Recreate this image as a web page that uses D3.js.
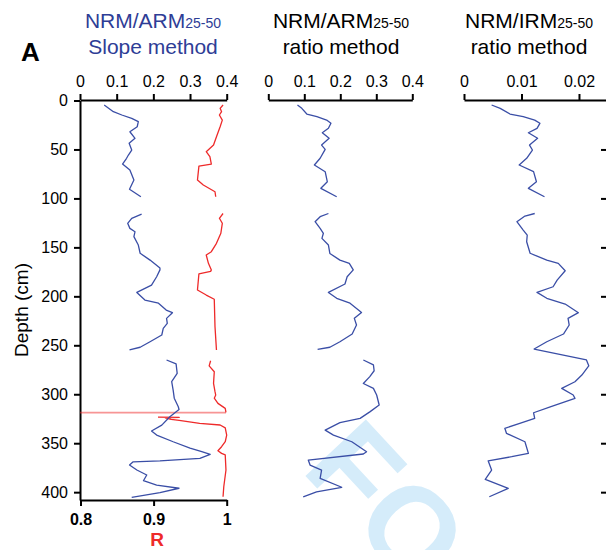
<!DOCTYPE html>
<html>
<head>
<meta charset="utf-8">
<script src="https://cdn.jsdelivr.net/npm/d3@7"></script>
<style>
    body { margin: 0; background: #fff; }
    svg { display: block; font-family: "Liberation Sans", Arial, sans-serif; }
    .axis path, .axis line { stroke: #000; stroke-width: 2; }
    .axis text { font-size: 16px; fill: #000; }
    .bold text { font-weight: bold; }
</style>
</head>
<body>
<div id="wrapper"></div>
<script>

// Daten: [Tiefe (cm), Wert]
const depthTicks = [0, 50, 100, 150, 200, 250, 300, 350, 400];
const armTicks = [0, 0.1, 0.2, 0.3, 0.4];
const irmTicks = [0, 0.01, 0.02];
const rTicks = [0.8, 0.9, 1];

// NRM/ARM Slope method (blau)
const slopeSeg1 = [[4.6,0.066],[11.4,0.091],[14.8,0.114],[18.2,0.141],[21.6,0.159],[26.8,0.156],[31.9,0.136],[38.6,0.150],[43.7,0.134],[50.6,0.141],[55.7,0.132],[59,0.127],[64.9,0.116],[71,0.136],[81.2,0.147],[90.7,0.135],[98.3,0.166]];
const slopeSeg2 = [[116,0.168],[120.3,0.141],[125.4,0.130],[130.6,0.136],[134,0.150],[139,0.147],[147.6,0.159],[156,0.164],[163,0.191],[171,0.218],[173,0.218],[180,0.209],[188.5,0.195],[196,0.155],[203.8,0.177],[207,0.214],[214,0.235],[216.7,0.252],[222.5,0.236],[227.6,0.238],[232.7,0.227],[239.5,0.223],[246.4,0.191],[252,0.164],[254.8,0.135]];
const slopeSeg3 = [[265,0.236],[269,0.262],[278.7,0.265],[287,0.250],[295.7,0.254],[304,0.257],[312.8,0.268],[315.6,0.270],[323,0.245],[331.5,0.223],[337.5,0.195],[341.7,0.209],[348.5,0.254],[355,0.300],[358.7,0.332],[361.4,0.355],[365.5,0.327],[368,0.218],[369,0.145],[372.3,0.135],[377.4,0.155],[382.5,0.182],[388.3,0.173],[392.7,0.209],[396,0.270],[400.5,0.218],[405.3,0.141]];

// R (rot)
const rSeg1 = [[4.6,0.995],[8,0.991],[11.4,0.993],[14.8,0.990],[20,0.994],[26.8,0.991],[37,0.986],[45.5,0.982],[52.3,0.972],[57.4,0.977],[64.9,0.979],[67,0.962],[81.2,0.960],[86.3,0.968],[93.2,0.984],[98.3,0.985]];
const rSeg2 = [[115.4,0.995],[120.3,0.990],[125.4,0.994],[135.6,0.992],[145.9,0.986],[154.4,0.979],[157.8,0.972],[166.3,0.975],[173,0.979],[174.5,0.978],[177,0.962],[193.5,0.960],[198.7,0.972],[203,0.983],[231,0.984],[254.8,0.986]];
const rSeg3 = [[265.8,0.978],[271,0.976],[277,0.983],[288.9,0.982],[297.4,0.984],[300.8,0.985],[304,0.983],[309.3,0.988],[314.4,0.998],[318.5,0.999]];
const rSeg4 = [[323.4,0.906],[323.7,0.935],[324,0.916],[325.6,0.924],[326.6,0.935],[329.7,0.963],[331.4,0.991],[334.4,0.998],[341.7,1.0],[348.5,0.998],[353.6,0.993],[357.7,0.988],[360.4,0.993],[362,0.998],[377.4,0.999],[394.5,0.996],[404.7,0.995]];
const rDotted = [[318.8,0.8],[318.8,0.999]];

// NRM/ARM ratio method
const ratioSeg1 = [[4.6,0.081],[8,0.093],[13.8,0.107],[16.5,0.135],[20,0.162],[23.3,0.174],[28.4,0.167],[32.9,0.150],[38.6,0.169],[45.5,0.148],[49.9,0.158],[59,0.144],[65.9,0.128],[72.7,0.158],[83,0.164],[89.7,0.146],[98.3,0.190]];
const ratioSeg2 = [[115.4,0.167],[118.7,0.144],[123.8,0.130],[130.6,0.144],[135.6,0.153],[140.8,0.149],[147.6,0.167],[156.2,0.171],[163,0.199],[166.3,0.225],[173,0.236],[180,0.219],[187.4,0.213],[196,0.167],[202,0.190],[207,0.227],[216.4,0.259],[222.5,0.239],[229.3,0.245],[238.5,0.233],[246.4,0.199],[252,0.171],[254.2,0.137]];
const ratioSeg3 = [[265,0.264],[270,0.292],[276,0.294],[282,0.282],[289,0.264],[294,0.292],[300.8,0.301],[311,0.308],[318,0.282],[324.6,0.255],[329,0.199],[336.6,0.158],[341.7,0.181],[348.5,0.232],[358.7,0.273],[361,0.264],[367.2,0.111],[372.3,0.116],[377.4,0.148],[386,0.144],[395,0.204],[399.6,0.134],[404.7,0.097]];

// NRM/IRM ratio method
const irmSeg1 = [[4.6,0.0048],[8,0.0063],[13.8,0.0080],[16.5,0.0103],[20,0.0123],[23.3,0.0132],[28.4,0.0127],[32.9,0.0112],[38.6,0.0128],[45.5,0.0114],[50.6,0.0119],[59,0.0109],[65.9,0.0096],[72.7,0.0121],[83,0.0126],[89.7,0.0112],[98.3,0.0140]];
const irmSeg2 = [[115.4,0.0123],[118,0.0106],[123.8,0.0092],[132.3,0.0103],[137.4,0.0110],[144.2,0.0109],[156,0.0115],[163,0.0144],[166.3,0.0164],[173.9,0.0176],[183.4,0.0162],[190.2,0.0155],[196,0.0127],[202,0.0144],[207.9,0.0176],[216.7,0.0199],[222.5,0.0181],[229.3,0.0183],[238.5,0.0173],[246.4,0.0144],[253.8,0.0122],[265,0.0213],[271,0.0217],[280.4,0.0205],[287.2,0.0193],[294,0.0170],[300.8,0.0190],[304.2,0.0193],[312.8,0.0150],[318.9,0.0121],[324.6,0.0123],[329.7,0.0097],[334.8,0.0071],[340,0.0074],[348.5,0.0106],[360.4,0.0112],[363.8,0.0083],[368,0.0042],[377.4,0.0048],[386.9,0.0037],[396.1,0.0077],[404.7,0.0044]];


function drawChart() {

    const blue = '#3a4ea6';
    const red = '#ee2a2a';

    let dimensions = {
        width: 606,
        height: 550,
        axisTop: 100,
        axisBottom: 500
    };

    const wrapper = d3.select('#wrapper')
        .append('svg')
        .attr('width', dimensions.width)
        .attr('height', dimensions.height);

    /// SKALEN //////////////////////////////////////////
    const yScale = d3.scaleLinear().domain([0, 408]).range([100.5, 500]);
    const slopeX = d3.scaleLinear().domain([0, 0.4]).range([80, 226.7]);
    const rX = d3.scaleLinear().domain([0.8, 1]).range([80.5, 226.7]);
    const ratioX = d3.scaleLinear().domain([0, 0.4]).range([268.3, 412.3]);
    const irmX = d3.scaleLinear().domain([0, 0.0247]).range([464, 606]);

    /// WASSERZEICHEN (liegt hinten) ////////////////////
    wrapper.append('text')
        .attr('transform', 'translate(300,470) rotate(47)')
        .attr('font-size', 120)
        .attr('font-weight', 'bold')
        .attr('fill', '#d5ecfa')
        .text('FO');

    /// ACHSEN //////////////////////////////////////////
    wrapper.append('g')
        .attr('class', 'axis')
        .attr('transform', `translate(0, ${dimensions.axisTop})`)
        .call(d3.axisTop(slopeX).tickValues(armTicks).tickSize(6).tickSizeOuter(0).tickPadding(7).tickFormat(d3.format('')));

    wrapper.append('g')
        .attr('class', 'axis')
        .attr('transform', `translate(0, ${dimensions.axisTop})`)
        .call(d3.axisTop(ratioX).tickValues(armTicks).tickSize(6).tickSizeOuter(0).tickPadding(7).tickFormat(d3.format('')));

    wrapper.append('g')
        .attr('class', 'axis')
        .attr('transform', `translate(0, ${dimensions.axisTop})`)
        .call(d3.axisTop(irmX).tickValues(irmTicks).tickSize(6).tickSizeOuter(0).tickPadding(7).tickFormat(d3.format('')));

    wrapper.append('g')
        .attr('class', 'axis')
        .attr('transform', 'translate(80, 0)')
        .call(d3.axisLeft(yScale).tickValues(depthTicks).tickSize(6).tickSizeOuter(0).tickPadding(6));

    wrapper.append('g')
        .attr('class', 'axis bold')
        .attr('transform', `translate(0, ${dimensions.axisBottom})`)
        .call(d3.axisBottom(rX).tickValues(rTicks).tickSize(6).tickSizeOuter(0).tickPadding(8).tickFormat(d3.format('')));

    // rechte Ticks vom dritten Panel, ohne Linie
    const rightAxis = wrapper.append('g')
        .attr('class', 'axis')
        .attr('transform', 'translate(606, 0)')
        .call(d3.axisLeft(yScale).tickValues(depthTicks.slice(1)).tickSize(5).tickFormat(''));
    rightAxis.select('.domain').remove();

    /// LINIEN //////////////////////////////////////////
    function drawLine(data, xScale, color, dash) {
        const line = d3.line()
            .x(d => xScale(d[1]))
            .y(d => yScale(d[0]));
        wrapper.append('path')
            .datum(data)
            .attr('d', line)
            .attr('fill', 'none')
            .attr('stroke', color)
            .attr('stroke-width', dash ? 1.6 : 1.3)
            .attr('stroke-dasharray', dash ? '1,1' : null)
            .attr('stroke-linejoin', 'round');
    }

    [rSeg1, rSeg2, rSeg3, rSeg4].forEach(s => drawLine(s, rX, red));
    drawLine(rDotted, rX, red, true);
    [slopeSeg1, slopeSeg2, slopeSeg3].forEach(s => drawLine(s, slopeX, blue));
    [ratioSeg1, ratioSeg2, ratioSeg3].forEach(s => drawLine(s, ratioX, blue));
    [irmSeg1, irmSeg2].forEach(s => drawLine(s, irmX, blue));

    /// TITEL ///////////////////////////////////////////
    const titles = [
        { x: 153, color: '#2e3d96', top: 'NRM/ARM', bottom: 'Slope method' },
        { x: 341, color: '#000', top: 'NRM/ARM', bottom: 'ratio method' },
        { x: 529, color: '#000', top: 'NRM/IRM', bottom: 'ratio method' }
    ];

    titles.forEach(t => {
        const line1 = wrapper.append('text')
            .attr('x', t.x)
            .attr('y', 28)
            .attr('text-anchor', 'middle')
            .attr('font-size', 21)
            .attr('fill', t.color);
        line1.append('tspan').text(t.top);
        line1.append('tspan').attr('font-size', 14).text('25-50');

        wrapper.append('text')
            .attr('x', t.x)
            .attr('y', 54)
            .attr('text-anchor', 'middle')
            .attr('font-size', 21)
            .attr('fill', t.color)
            .text(t.bottom);
    });

    wrapper.append('text')
        .attr('x', 21)
        .attr('y', 61)
        .attr('font-size', 26)
        .attr('font-weight', 'bold')
        .text('A');

    wrapper.append('text')
        .attr('transform', 'translate(28, 310) rotate(-90)')
        .attr('text-anchor', 'middle')
        .attr('font-size', 19)
        .text('Depth (cm)');

    wrapper.append('text')
        .attr('x', 157)
        .attr('y', 546)
        .attr('text-anchor', 'middle')
        .attr('font-size', 19)
        .attr('font-weight', 'bold')
        .attr('fill', red)
        .text('R');
}

drawChart();
</script>
</body>
</html>
